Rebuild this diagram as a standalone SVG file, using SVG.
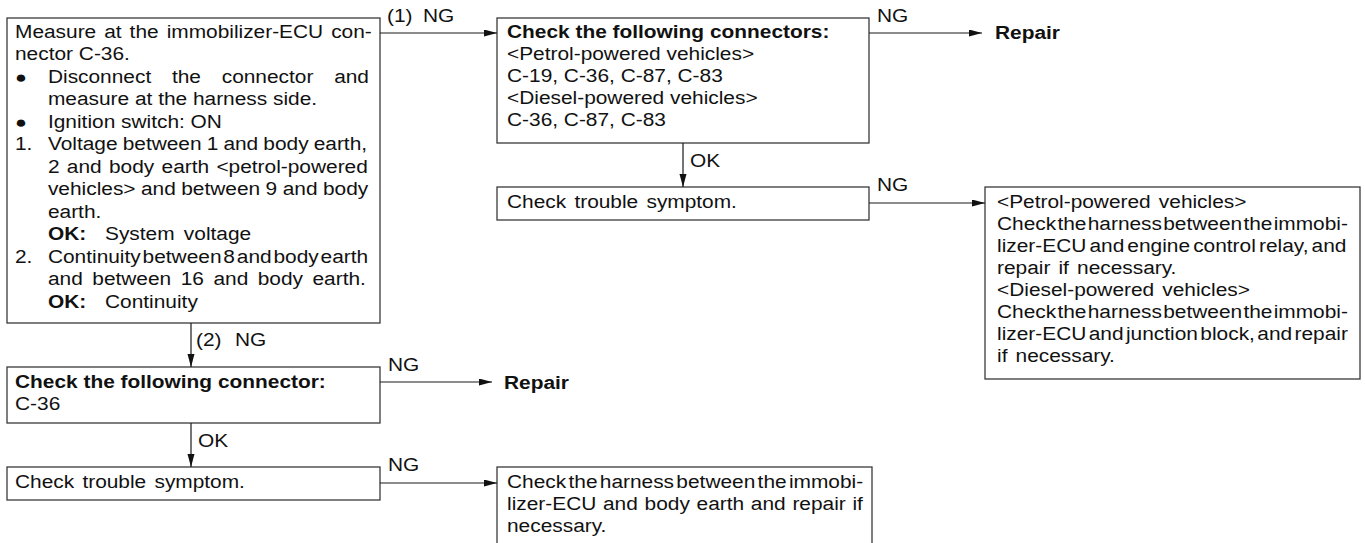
<svg xmlns="http://www.w3.org/2000/svg" width="1365" height="543" viewBox="0 0 1365 543">
<style>
.box{fill:#fff;stroke:#3a3a3a;stroke-width:1.3}
.t{font-family:"Liberation Sans",Arial,sans-serif;font-size:18px;fill:#111}
.b{font-weight:bold}
.c{stroke:#1a1a1a;stroke-width:1.2;fill:none;marker-end:url(#ah)}
.bul{font-size:17px}
</style>
<defs>
<marker id="ah" markerUnits="userSpaceOnUse" markerWidth="14" markerHeight="8" refX="13" refY="3.5" orient="auto"><path d="M0,0 L13,3.5 L0,7 z" fill="#111"/></marker>
</defs>
<rect width="1365" height="543" fill="#fff"/>

<g id="n1">
<rect class="box" x="7" y="18" width="373" height="305"/>
<g class="t" transform="translate(15,0) scale(1.16,1)">
<text x="0" y="38" style="word-spacing:1.9px">Measure at the immobilizer-ECU con-</text>
<text x="0" y="60.5">nector C-36.</text>
<text class="bul" x="0" y="83">●</text>
<text x="28.4" y="83" style="word-spacing:12.9px">Disconnect the connector and</text>
<text x="28.4" y="105.5">measure at the harness side.</text>
<text class="bul" x="0" y="128">●</text>
<text x="28.4" y="128">Ignition switch: ON</text>
<text x="0" y="150.5">1.</text>
<text x="28.4" y="150.5" style="word-spacing:-0.6px">Voltage between 1 and body earth,</text>
<text x="28.4" y="173" style="word-spacing:1.3px">2 and body earth &lt;petrol-powered</text>
<text x="28.4" y="195.5" style="word-spacing:-0.3px">vehicles&gt; and between 9 and body</text>
<text x="28.4" y="218">earth.</text>
<text class="b" x="28.4" y="240.5">OK:</text>
<text x="77.6" y="240.5" style="word-spacing:3px">System voltage</text>
<text x="0" y="263">2.</text>
<text x="28.4" y="263" style="word-spacing:-3.4px">Continuity between 8 and body earth</text>
<text x="28.4" y="285.5" style="word-spacing:3.2px">and between 16 and body earth.</text>
<text class="b" x="28.4" y="308">OK:</text>
<text x="77.6" y="308">Continuity</text>
</g>
</g>

<g id="n2">
<rect class="box" x="497" y="18" width="372" height="125"/>
<g class="t" transform="translate(507,0) scale(1.16,1)">
<text class="b" x="0" y="38">Check the following connectors:</text>
<text x="0" y="60">&lt;Petrol-powered vehicles&gt;</text>
<text x="0" y="82">C-19, C-36, C-87, C-83</text>
<text x="0" y="104">&lt;Diesel-powered vehicles&gt;</text>
<text x="0" y="126">C-36, C-87, C-83</text>
</g>
</g>

<g id="n_repair1">
<text class="t b" transform="translate(995,0) scale(1.16,1)" x="0" y="39">Repair</text>
</g>

<g id="n4">
<rect class="box" x="497" y="187" width="372" height="33"/>
<text class="t" transform="translate(507,0) scale(1.16,1)" x="0" y="208" style="word-spacing:2.1px">Check trouble symptom.</text>
</g>

<g id="n6">
<rect class="box" x="985" y="187" width="375" height="192"/>
<g class="t" transform="translate(997,0) scale(1.16,1)">
<text x="0" y="208" style="word-spacing:2px">&lt;Petrol-powered vehicles&gt;</text>
<text x="0" y="230" style="word-spacing:-3.9px">Check the harness between the immobi-</text>
<text x="0" y="252" style="word-spacing:-2.3px">lizer-ECU and engine control relay, and</text>
<text x="0" y="274" style="word-spacing:2px">repair if necessary.</text>
<text x="0" y="296" style="word-spacing:2px">&lt;Diesel-powered vehicles&gt;</text>
<text x="0" y="318" style="word-spacing:-3.9px">Check the harness between the immobi-</text>
<text x="0" y="340" style="word-spacing:-2.9px">lizer-ECU and junction block, and repair</text>
<text x="0" y="362" style="word-spacing:2px">if necessary.</text>
</g>
</g>

<g id="n3">
<rect class="box" x="7" y="367" width="373" height="56"/>
<g class="t" transform="translate(15,0) scale(1.16,1)">
<text class="b" x="0" y="388">Check the following connector:</text>
<text x="0" y="410">C-36</text>
</g>
</g>

<g id="n_repair2">
<text class="t b" transform="translate(504,0) scale(1.16,1)" x="0" y="389">Repair</text>
</g>

<g id="n4b">
<rect class="box" x="7" y="467" width="373" height="33"/>
<text class="t" transform="translate(15,0) scale(1.16,1)" x="0" y="488" style="word-spacing:2.1px">Check trouble symptom.</text>
</g>

<g id="n5">
<rect class="box" x="497" y="467" width="375" height="100"/>
<g class="t" transform="translate(507,0) scale(1.16,1)">
<text x="0" y="488" style="word-spacing:-3px">Check the harness between the immobi-</text>
<text x="0" y="510" style="word-spacing:0.8px">lizer-ECU and body earth and repair if</text>
<text x="0" y="532">necessary.</text>
</g>
</g>

<g id="connectors">
<line class="c" x1="380" y1="33" x2="497" y2="33"/>
<line class="c" x1="869" y1="33" x2="982" y2="33"/>
<line class="c" x1="683" y1="143" x2="683" y2="187"/>
<line class="c" x1="869" y1="203" x2="985" y2="203"/>
<line class="c" x1="191" y1="323" x2="191" y2="367"/>
<line class="c" x1="380" y1="382" x2="492" y2="382"/>
<line class="c" x1="191" y1="423" x2="191" y2="467"/>
<line class="c" x1="380" y1="483" x2="497" y2="483"/>
<g class="t">
<text transform="translate(387,0) scale(1.16,1)" x="0" y="22">(1)</text>
<text transform="translate(423,0) scale(1.16,1)" x="0" y="22">NG</text>
<text transform="translate(877,0) scale(1.16,1)" x="0" y="22">NG</text>
<text transform="translate(690,0) scale(1.16,1)" x="0" y="167">OK</text>
<text transform="translate(877,0) scale(1.16,1)" x="0" y="191">NG</text>
<text transform="translate(196,0) scale(1.16,1)" x="0" y="346">(2)</text>
<text transform="translate(235,0) scale(1.16,1)" x="0" y="346">NG</text>
<text transform="translate(388,0) scale(1.16,1)" x="0" y="371">NG</text>
<text transform="translate(198,0) scale(1.16,1)" x="0" y="447">OK</text>
<text transform="translate(388,0) scale(1.16,1)" x="0" y="471">NG</text>
</g>
</g>
</svg>
